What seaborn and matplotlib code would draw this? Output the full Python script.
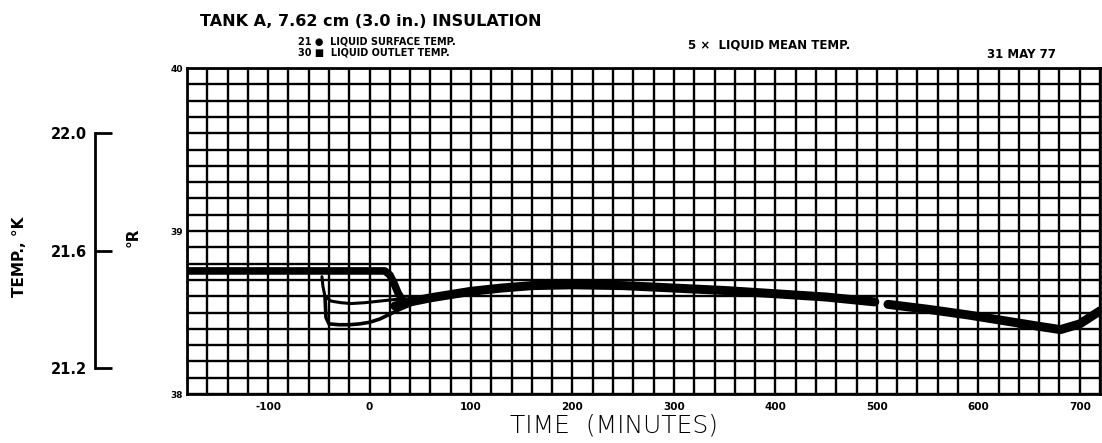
import numpy as np
import pandas as pd
import matplotlib
matplotlib.use("Agg")
import matplotlib.pyplot as plt
import seaborn as sns

# ---------------- data (time in minutes, temperature in deg R) ----------------
pre_time = [-180, -100, 0, 15, 20, 24, 28, 33]
pre_temp = [38.755, 38.755, 38.755, 38.755, 38.73, 38.68, 38.62, 38.57]

mean_time_a = [25, 40, 60, 80, 100, 130, 160, 200, 250, 300, 350, 400, 450, 498]
mean_temp_a = [38.54, 38.565, 38.59, 38.61, 38.63, 38.65, 38.665, 38.67, 38.665,
               38.65, 38.635, 38.615, 38.595, 38.565]
mean_time_b = [511, 550, 590, 630, 660, 681, 700, 720]
mean_temp_b = [38.55, 38.52, 38.485, 38.445, 38.415, 38.395, 38.43, 38.51]

surface_time = [-47, -46, -44, -38, -28, -18, -5, 10, 25, 40]
surface_temp = [38.72, 38.66, 38.60, 38.57, 38.56, 38.555, 38.56, 38.57, 38.58, 38.585]

outlet_time = [-44, -43, -40, -30, -20, -10, 0, 10, 20, 30, 45]
outlet_temp = [38.60, 38.47, 38.43, 38.425, 38.425, 38.43, 38.44, 38.46, 38.49, 38.52, 38.56]

x_ticks = [-100, 0, 100, 200, 300, 400, 500, 600, 700]
x_labels = ["-100", "0", "100", "200", "300", "400", "500", "600", "700"]
r_ticks = [38, 39, 40]
r_labels = ["38", "39", "40"]
k_ticks = [21.2, 21.6, 22.0]
k_labels = ["21.2", "21.6", "22.0"]

title = "TANK A, 7.62 cm (3.0 in.) INSULATION"
legend_1 = "21 \u25CF  LIQUID SURFACE TEMP."
legend_2 = "30 \u25A0  LIQUID OUTLET TEMP."
legend_3 = "5 \u00D7  LIQUID MEAN TEMP."
date_text = "31 MAY 77"

# ---------------- frame ----------------
def seg(t, v, name, s):
    return pd.DataFrame({"time": t, "temp": v, "series": name, "segment": s})

df = pd.concat([
    seg(pre_time, pre_temp, "pre", 0),
    seg(mean_time_a, mean_temp_a, "mean", 1),
    seg(mean_time_b, mean_temp_b, "mean", 2),
    seg(surface_time, surface_temp, "surface", 3),
    seg(outlet_time, outlet_temp, "outlet", 4),
], ignore_index=True)

sns.set_theme(style="white")
plt.rcParams["font.family"] = ["DejaVu Sans"]
plt.rcParams["text.color"] = "black"
plt.rcParams["xtick.color"] = "black"
plt.rcParams["ytick.color"] = "black"
plt.rcParams["axes.labelcolor"] = "black"

W, H = 1102, 443
fig = plt.figure(figsize=(W / 100, H / 100), dpi=100)
ax = fig.add_axes([187 / W, (H - 394) / H, 913 / W, 326 / H])

widths = {"pre": 5.5, "mean": 6.5, "surface": 2.2, "outlet": 2.6}
for name, lw in widths.items():
    sub = df[df["series"] == name]
    sns.lineplot(data=sub, x="time", y="temp", units="segment", estimator=None,
                 sort=False, color="black", lw=lw, ax=ax, legend=False,
                 solid_capstyle="round", zorder=5)

ax.set_xlim(-180, 720)
ax.set_ylim(38, 40)
ax.set_xticks(x_ticks)
ax.set_xticklabels(x_labels, fontsize=7.5, fontweight="bold")
ax.set_xticks(np.arange(-180, 721, 20), minor=True)
ax.set_yticks(r_ticks)
ax.set_yticklabels(r_labels, fontsize=6.5, fontweight="bold")
ax.set_yticks(np.arange(38, 40.001, 0.1), minor=True)
ax.grid(which="both", color="black", lw=1.7)
ax.set_axisbelow(True)
ax.tick_params(which="both", length=0, colors="black")
ax.tick_params(axis="x", pad=6)
ax.tick_params(axis="y", pad=3)
ax.set_xlabel("")
ax.set_ylabel("")
for s in ax.spines.values():
    s.set_color("black")
    s.set_linewidth(2)

# secondary Kelvin scale
sec = ax.secondary_yaxis(-0.1008, functions=(lambda r: r / 1.8, lambda k: k * 1.8))
sec.set_yticks(k_ticks)
sec.set_yticklabels(k_labels, fontsize=10.5, fontweight="bold")
sec.tick_params(direction="in", length=12, width=2, pad=6, colors="black")
sec.spines["left"].set_bounds(21.2, 22.0)
sec.spines["left"].set_linewidth(2)
sec.spines["left"].set_color("black")

# texts
fig.text(200 / W, 1 - 22 / H, title, ha="left", va="center", fontsize=11.5, fontweight="bold")
fig.text(298 / W, 1 - 42 / H, legend_1, ha="left", va="center", fontsize=7, fontweight="bold")
fig.text(298 / W, 1 - 52.5 / H, legend_2, ha="left", va="center", fontsize=7, fontweight="bold")
fig.text(688 / W, 1 - 45 / H, legend_3, ha="left", va="center", fontsize=8.5, fontweight="bold")
fig.text(987 / W, 1 - 54 / H, date_text, ha="left", va="center", fontsize=8.5, fontweight="bold")
fig.text(614 / W, 1 - 425 / H, "TIME  (MINUTES)", ha="center", va="center", fontsize=18,
         fontweight="light")
fig.text(20 / W, 1 - 257 / H, "TEMP., \u00B0K", ha="center", va="center", rotation=90,
         fontsize=11, fontweight="bold")
fig.text(133 / W, 1 - 237 / H, "\u00B0R", ha="center", va="center", rotation=90,
         fontsize=11, fontweight="bold")

fig.savefig("out.png", dpi=100, facecolor="white")
